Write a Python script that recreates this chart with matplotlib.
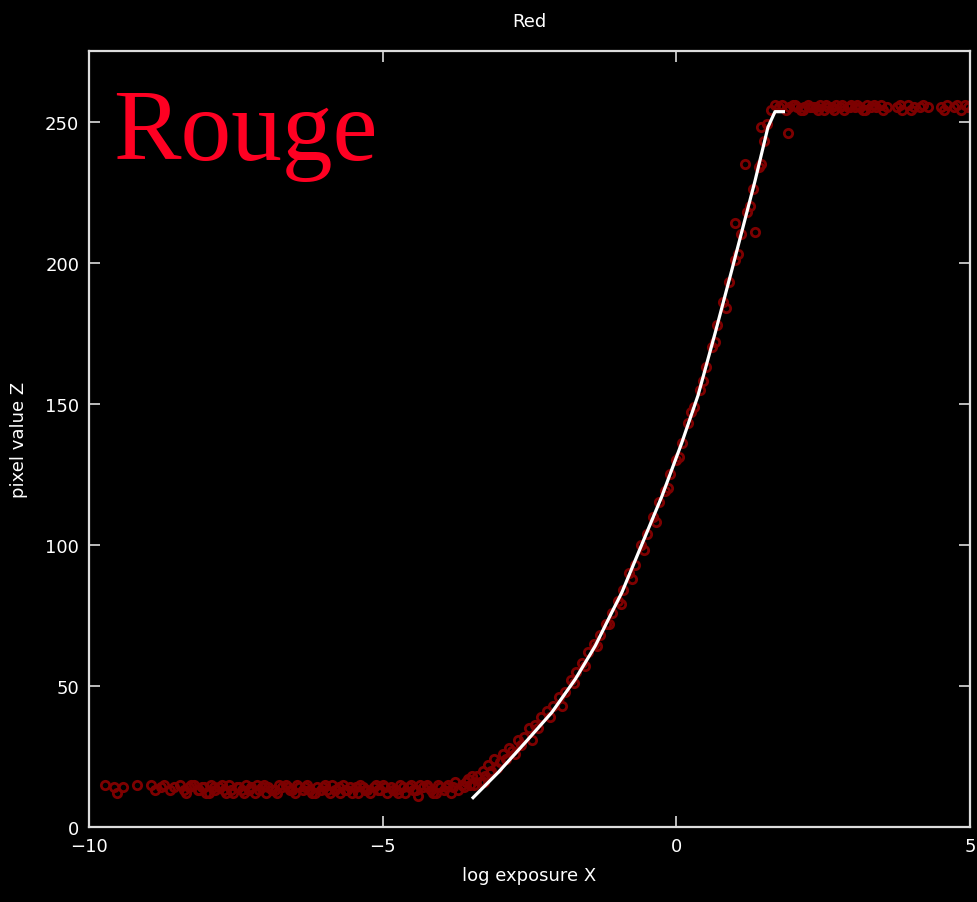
import numpy as np
import matplotlib.pyplot as plt

# fitted response curve (white line)
curve_x = [-3.48, -3.03, -2.57, -2.12, -1.72, -1.38, -1.10, -0.93, -0.59, -0.25,
           0.09, 0.37, 0.66, 0.94, 1.34, 1.56, 1.68, 1.85]
curve_y = [10, 19.4, 30, 40.6, 52.4, 64.2, 76, 83, 100, 117,
           136, 153, 175, 197, 229, 248, 253.5, 253.5]

# samples on the floor (dark pixels)
low_x = [-9.72, -9.58, -9.52, -9.42, -9.18, -8.95, -8.88, -8.78, -8.72, -8.62,
         -8.55, -8.45, -8.38, -8.30, -8.22, -8.15, -8.08, -8.00, -7.92, -7.85,
         -7.78, -7.70, -7.62, -7.55, -7.48, -7.40, -7.32, -7.25, -7.18, -7.10,
         -7.02, -6.95, -6.88, -6.80, -6.72, -6.65, -6.58, -6.50, -6.42, -6.35,
         -6.28, -6.20, -6.12, -6.05, -5.98, -5.90, -5.82, -5.75, -5.68, -5.60,
         -5.52, -5.45, -5.38, -5.30, -5.22, -5.15, -5.08, -5.00, -4.92, -4.85,
         -4.78, -4.70, -4.62, -4.55, -4.48, -4.40, -4.32, -4.25, -4.18, -4.10,
         -4.02, -3.95, -3.88, -3.80, -3.72, -3.65, -3.58, -3.52]
low_y = [15, 14, 12, 14, 15, 15, 13, 14, 15, 13,
         14, 15, 13, 14, 15, 13, 14, 12, 15, 13,
         14, 13, 15, 12, 14, 13, 15, 14, 12, 13,
         15, 14, 13, 12, 14, 15, 13, 12, 14, 13,
         15, 12, 14, 13, 15, 12, 13, 14, 15, 13,
         12, 14, 15, 13, 12, 14, 13, 15, 12, 14,
         13, 15, 12, 14, 13, 11, 14, 15, 13, 12,
         14, 13, 15, 14, 13, 15, 16, 15]

# second pass of floor samples, fills the dense band
low2_x = [-8.34, -8.26, -8.12, -8.04, -7.96, -7.88, -7.74, -7.66, -7.58, -7.44,
          -7.36, -7.28, -7.14, -7.06, -6.98, -6.84, -6.76, -6.62, -6.54, -6.46,
          -6.32, -6.24, -6.16, -6.02, -5.94, -5.86, -5.72, -5.64, -5.56, -5.42,
          -5.34, -5.26, -5.12, -5.04, -4.96, -4.82, -4.74, -4.66, -4.52, -4.44,
          -4.36, -4.22, -4.14, -4.06, -3.92, -3.84, -3.76, -3.62, -3.55, -3.48]
low2_y = [12, 15, 13, 14, 12, 14, 15, 12, 13, 14,
          12, 13, 15, 14, 12, 13, 15, 14, 13, 15,
          14, 13, 12, 14, 13, 15, 12, 13, 14, 12,
          14, 13, 15, 13, 14, 13, 12, 14, 15, 13,
          15, 14, 12, 15, 14, 12, 16, 14, 17, 18]

# samples along the rising part
mid_x = [-3.45, -3.40, -3.35, -3.30, -3.25, -3.20, -3.15, -3.10, -3.00, -2.95,
         -2.85, -2.80, -2.70, -2.60, -2.50, -2.40, -2.30, -2.20, -2.10, -2.00,
         -1.90, -1.80, -1.70, -1.60, -1.50, -1.40, -1.30, -1.20, -1.10, -1.00,
         -0.90, -0.80, -0.70, -0.60, -0.50, -0.40, -0.30, -0.20, -0.10, 0.00,
         0.10, 0.20, 0.30, 0.40, 0.50, 0.60, 0.70, 0.80, 0.90, 1.00,
         1.10, 1.20, 1.30, 1.40, 1.50, 1.55, 1.00, 1.17, 1.34, 1.45, 1.44,
         -3.28, -3.18, -3.05, -2.90, -2.75, -2.65, -2.45, -2.35, -2.15, -1.95,
         -1.75, -1.55, -1.35, -1.15, -0.95, -0.75, -0.55, -0.35, -0.15, 0.05,
         0.25, 0.45, 0.65, 0.85, 1.05, 1.25]
mid_y = [15, 18, 16, 20, 18, 22, 20, 24, 23, 26,
         28, 27, 31, 32, 35, 36, 39, 41, 43, 46,
         48, 52, 55, 58, 62, 65, 68, 72, 76, 80,
         84, 90, 93, 100, 104, 110, 115, 119, 125, 130,
         136, 143, 149, 155, 163, 170, 178, 186, 193, 201,
         210, 218, 226, 234, 243, 249, 214, 235, 211, 235, 248,
         16, 19, 21, 24, 26, 29, 31, 35, 39, 43,
         51, 57, 64, 72, 79, 88, 98, 108, 120, 131,
         147, 158, 172, 184, 203, 220]

# saturated samples
high_x = [1.62, 1.68, 1.74, 1.80, 1.86, 1.92, 1.98, 2.05, 2.12, 2.18,
          2.25, 2.32, 2.38, 2.45, 2.52, 2.58, 2.65, 2.72, 2.78, 2.85,
          2.92, 2.98, 3.05, 3.12, 3.18, 3.25, 3.32, 3.40, 3.48, 3.58,
          3.75, 3.85, 3.95, 4.05, 4.15, 4.28, 4.50, 4.60, 4.72, 4.85, 4.97, 1.90,
          2.02, 2.15, 2.28, 2.42, 2.55, 2.68, 2.82, 2.95, 3.08, 3.22, 3.36, 3.52,
          3.80, 4.00, 4.20, 4.55, 4.78, 4.92]
high_y = [254, 256, 255, 256, 254, 255, 256, 255, 254, 255,
          256, 255, 255, 256, 254, 255, 255, 256, 255, 254,
          255, 256, 255, 255, 254, 256, 255, 255, 256, 255,
          255, 254, 256, 255, 255, 255, 255, 256, 255, 254, 255, 246,
          256, 254, 255, 254, 256, 254, 256, 255, 256, 254, 256, 254,
          256, 254, 256, 254, 256, 256]

fig = plt.figure(figsize=(9.77, 9.03), dpi=100, facecolor='black')
ax = fig.add_axes([89/977, 1 - 828/903, 881/977, 776/903])
ax.set_facecolor('black')

mk = dict(linestyle='none', marker='o', markersize=6, markerfacecolor='none',
          markeredgecolor='#7d0000', markeredgewidth=2)
ax.plot(low_x, low_y, **mk)
ax.plot(low2_x, low2_y, **mk)
ax.plot(mid_x, mid_y, **mk)
ax.plot(high_x, high_y, **mk)
ax.plot(curve_x, curve_y, color='white', linewidth=2.3, solid_capstyle='butt',
        solid_joinstyle='round')

ax.set_xlim(-10, 5)
ax.set_ylim(0, 275)
ax.set_xticks([-10, -5, 0, 5])
ax.set_xticklabels(['\u221210', '\u22125', '0', '5'])
ax.set_yticks([0, 50, 100, 150, 200, 250])

for s in ax.spines.values():
    s.set_color('#dddddd')
    s.set_linewidth(1.6)
ax.tick_params(direction='in', length=8, width=1.2, colors='#dddddd',
               top=True, right=True, labelsize=13, pad=7)
for lab in ax.get_xticklabels() + ax.get_yticklabels():
    lab.set_color('white')

ax.set_title('Red', color='white', fontsize=13, pad=18)
ax.set_xlabel('log exposure X', color='white', fontsize=13, labelpad=8)
ax.set_ylabel('pixel value Z', color='white', fontsize=13, labelpad=12)

fig.text(113/977, 1 - 160/903, 'Rouge', color='#ff0022', fontsize=73,
         family='Liberation Serif', va='baseline', ha='left')

fig.savefig('out.png', dpi=100, facecolor='black')
